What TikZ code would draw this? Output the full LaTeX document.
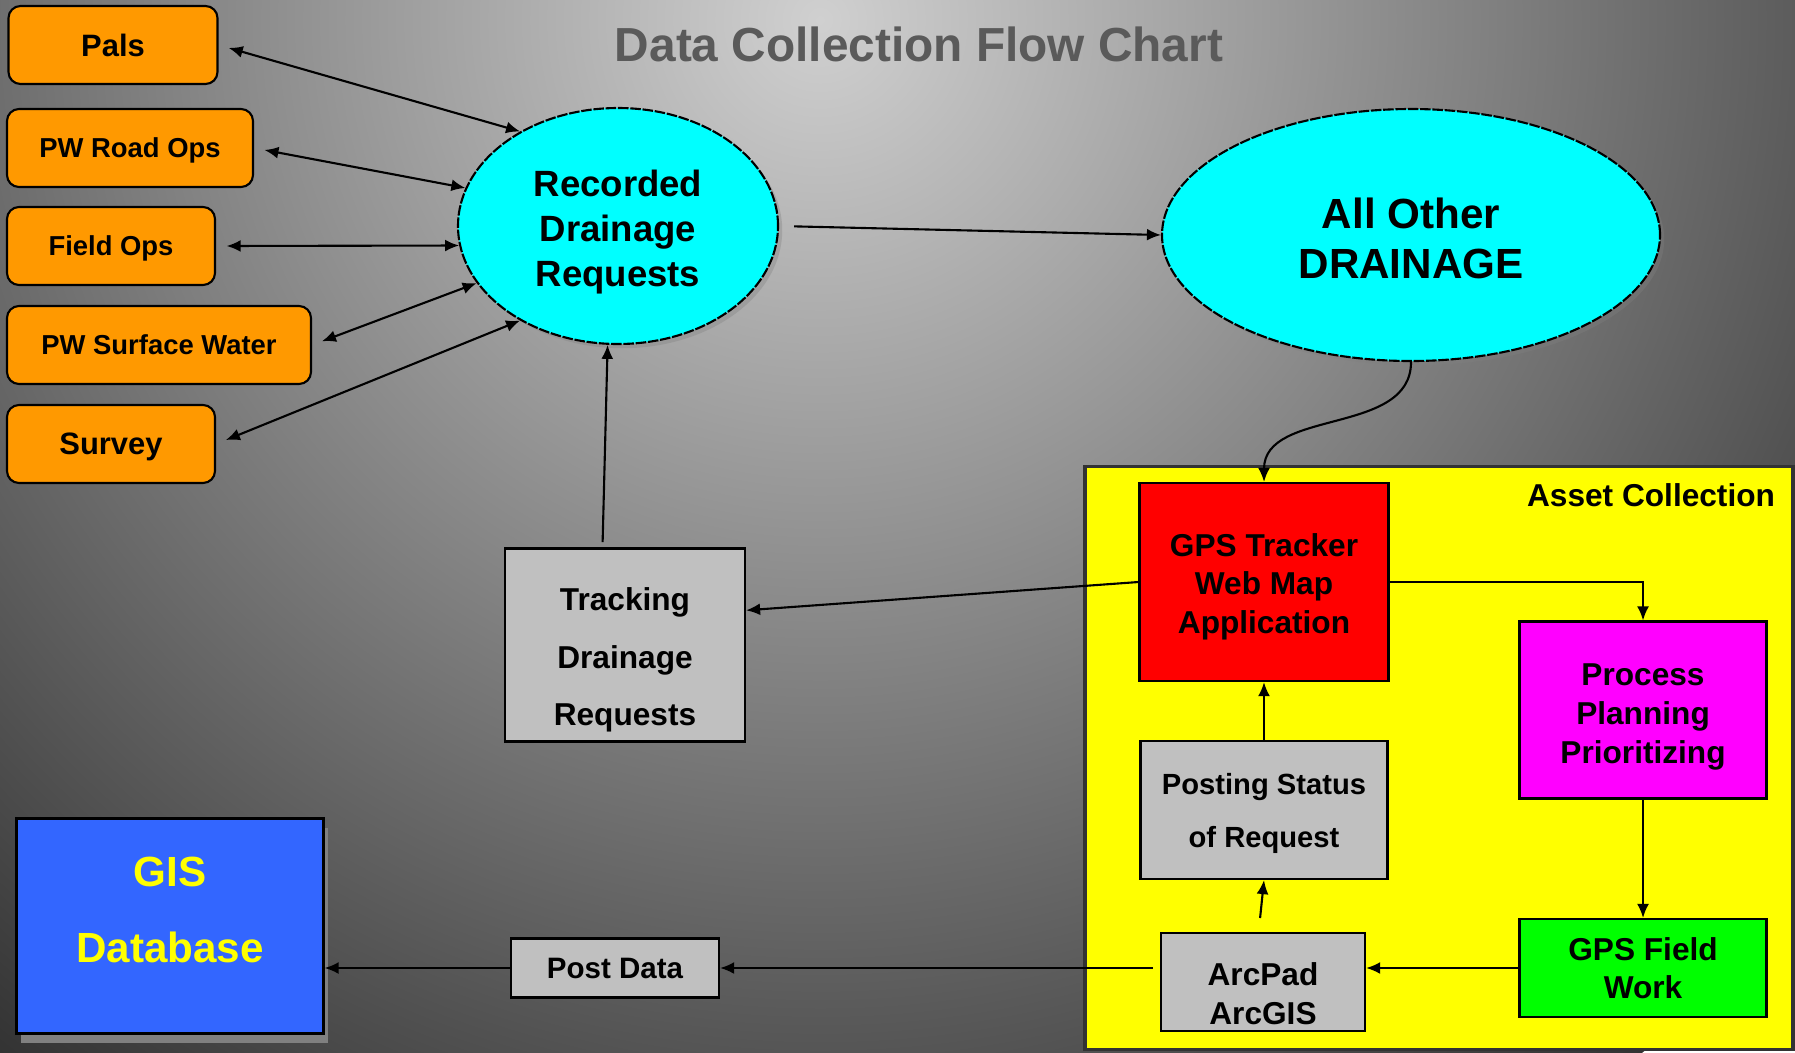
\documentclass[tikz,border=0pt]{standalone}
\usepackage{fontspec}
\setmainfont{Liberation Sans}
\usetikzlibrary{shapes.geometric,shadows,arrows.meta}

\definecolor{bglight}{HTML}{D0D0D0}
\definecolor{bgdark}{HTML}{333333}
\definecolor{titlegray}{HTML}{5A5A5A}
\definecolor{srcorange}{HTML}{FF9900}
\definecolor{boxgray}{HTML}{C0C0C0}
\definecolor{gisblue}{HTML}{3366FF}
\definecolor{reqcyan}{rgb}{0,1,1}
\definecolor{planmagenta}{rgb}{1,0,1}
\definecolor{assetyellow}{rgb}{1,1,0}
\definecolor{gpsred}{rgb}{1,0,0}
\definecolor{workgreen}{rgb}{0,1,0}

\begin{document}
\begin{tikzpicture}
	  [x=0.1mm,y=-0.1mm,line width=0.6pt,>={Latex[length=4pt,width=3.4pt]},
	   every node/.style={font=\bfseries\fontsize{9}{11}\selectfont,align=center,inner sep=0pt},
	   src/.style={draw,fill=srcorange,rounded corners=1.2mm,minimum height=7.8mm,text depth=0pt,
	     font=\bfseries\fontsize{7.8}{9}\selectfont},
	   blob/.style={ellipse,draw,dash pattern=on 3pt off 0.5pt,fill=reqcyan,
	     drop shadow={shadow xshift=1.2pt,shadow yshift=-1.2pt,opacity=.35}},
	   box/.style={draw,fill=boxgray,minimum width=24.7mm}]
	% backdrop
	\begin{scope}
	  \clip (0,0) rectangle (1795,1052);
	  \shade[inner color=bglight,outer color=bgdark] (820,20) circle (132mm);
	\end{scope}
	\useasboundingbox (0,0) rectangle (1795,1052);

	\node[text=titlegray,font=\bfseries\fontsize{13.6}{16}\selectfont] (title) at (919,44)
	  {Data Collection Flow Chart};

	% request sources
	\node[src,minimum width=20.9mm,font=\bfseries\fontsize{8.8}{10}\selectfont] (pals) at (113,45) {Pals};
	\node[src,minimum width=24.6mm] (road)    at (130,148) {PW Road Ops};
	\node[src,minimum width=20.8mm] (field)   at (111,246) {Field Ops};
	\node[src,minimum width=30.4mm] (surface) at (159,345) {PW Surface Water};
	\node[src,minimum width=20.8mm,font=\bfseries\fontsize{8.8}{10}\selectfont] (survey) at (111,444) {Survey};

	\node[blob,minimum width=32mm,minimum height=23.6mm,font=\bfseries\fontsize{10.4}{12.8}\selectfont]
	  (rec) at (618,226) {\rule{0pt}{10.8pt}Recorded\\Drainage\\Requests};
	\node[blob,minimum width=49.8mm,minimum height=25.2mm,font=\bfseries\fontsize{12}{14.3}\selectfont]
	  (other) at (1411,235) {\rule{0pt}{10.8pt}All Other\\DRAINAGE};

	\node[box,minimum width=24mm,minimum height=19.3mm,font=\bfseries\fontsize{9}{16.3}\selectfont]
	  (track) at (625,645) {\rule{0pt}{15pt}Tracking\\Drainage\\Requests};

	% asset collection area
	\node[draw=black!80,line width=1pt,fill=assetyellow,minimum width=70.8mm,minimum height=58.3mm]
	  (asset) at (1439,758) {};
	\node[anchor=east] (assetlbl) at (1776,495) {Asset Collection};

	\node[draw,fill=gpsred,minimum width=24.9mm,minimum height=19.8mm] (gps) at (1264,582)
	  {\rule{0pt}{9.2pt}GPS Tracker\\Web Map\\Application};
	\node[draw,fill=planmagenta,minimum width=24.7mm,minimum height=17.7mm] (plan) at (1643,710)
	  {\rule{0pt}{10.2pt}Process\\Planning\\Prioritizing};
	\node[draw,fill=workgreen,minimum width=24.7mm,minimum height=9.8mm] (fieldwork) at (1643,968)
	  {GPS Field\\Work};
	\node[box,minimum width=20.4mm,minimum height=9.8mm] (arcpad) at (1263,982)
	  {\rule{0pt}{13.2pt}ArcPad\\ArcGIS};
	\node[box,minimum height=13.8mm,font=\bfseries\fontsize{8.3}{15}\selectfont] (posting) at (1264,810)
	  {\rule{0pt}{8.1pt}Posting Status\\of Request};

	\node[box,minimum width=20.8mm,minimum height=5.9mm,font=\bfseries\fontsize{8.4}{10}\selectfont]
	  (post) at (615,968) {Post Data};
	\node[draw,fill=gisblue,text=assetyellow,minimum width=30.7mm,minimum height=21.5mm,
	  font=\bfseries\fontsize{12}{21.6}\selectfont,
	  drop shadow={shadow xshift=1.4pt,shadow yshift=-2.6pt,fill=gray,opacity=1}]
	  (gis) at (170,926) {GIS\\Database\rule[-9.2pt]{0pt}{9.2pt}};

	\foreach \from/\to in {pals/rec.136,road/rec.166,field/rec.187,surface/rec.202,survey/rec.224}
	  \draw[<->,shorten <=3pt] (\from.east) -- (\to);

	\draw[->,shorten <=1.5mm] (rec.east) -- (other.west);
	\draw[->] (other.south) to[out=-90,in=90] (gps.north);
	\draw[->] (gps.west) -- (track.16);
	\draw[->,shorten <=1.5pt] (track.103) -- (rec.265);
	\draw[->] (gps.east) -| (plan.north);
	\draw[->] (plan.south) -- (fieldwork.north);
	\draw[->] (fieldwork.west) -- (fieldwork.west -| arcpad.east);
	\draw[->,shorten <=4pt] (arcpad.95) -- (posting.south);
	\draw[->] (posting.north) -- (gps.south);
	\draw[->,shorten <=2pt] (arcpad.west |- post.east) -- (post.east);
	\draw[->] (post.west) -- (post.west -| gis.east);
	\end{tikzpicture}
\end{document}
